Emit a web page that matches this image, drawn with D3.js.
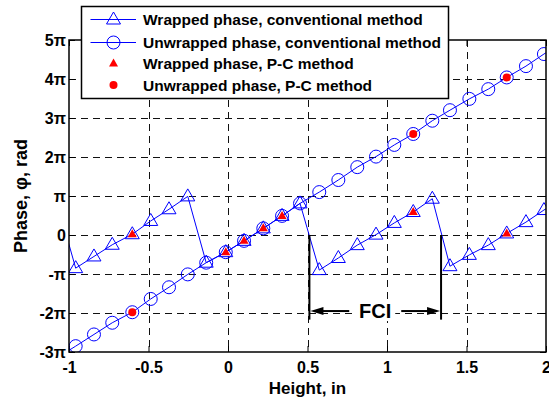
<!DOCTYPE html>
<html>
<head>
<meta charset="utf-8">
<script src="https://cdn.jsdelivr.net/npm/d3@7"></script>
<style>
html,body{margin:0;padding:0;background:#fff;}
svg{display:block;}
text{font-family:"Liberation Sans",Arial,Helvetica,sans-serif;font-weight:bold;fill:#000;}
</style>
</head>
<body>
<svg id="chart" width="549" height="400"></svg>
<script>
// ---- data (phase in units of pi) ----
const heights = [-1.076, -0.958, -0.843, -0.728, -0.602, -0.486, -0.371, -0.253, -0.137, -0.014,
  0.101, 0.222, 0.340, 0.453, 0.574, 0.694, 0.813, 0.931, 1.046, 1.165,
  1.285, 1.396, 1.518, 1.637, 1.753, 1.874, 1.987, 2.105];
const wrappedConv = [0.85, -0.85, -0.55, -0.25, 0.02, 0.36, 0.66, 0.99, -0.71, -0.44,
  -0.15, 0.17, 0.49, 0.81, -0.90, -0.59, -0.26, 0.01, 0.31, 0.59,
  0.93, -0.80, -0.51, -0.26, 0.04, 0.33, 0.64, 0.94];
const unwrappedConv = [-3.15, -2.85, -2.55, -2.25, -1.98, -1.64, -1.34, -1.01, -0.71, -0.44,
  -0.15, 0.17, 0.49, 0.81, 1.10, 1.41, 1.74, 2.01, 2.31, 2.59,
  2.93, 3.20, 3.49, 3.74, 4.04, 4.33, 4.64, 4.94];
const pcWrappedX = [-0.602, -0.014, 0.101, 0.222, 0.340, 1.165, 1.753];
const pcWrapped = [0.02, -0.44, -0.15, 0.17, 0.49, 0.59, 0.04];
const pcUnwrappedX = [-0.602, 1.165, 1.753];
const pcUnwrapped = [-1.98, 2.59, 4.04];
const xTicks = [-1, -0.5, 0, 0.5, 1, 1.5, 2];
const xTickLabels = ["-1", "-0.5", "0", "0.5", "1", "1.5", "2"];
const yTicks = [-3, -2, -1, 0, 1, 2, 3, 4, 5];
const yTickLabels = ["-3\u03c0", "-2\u03c0", "-\u03c0", "0", "\u03c0", "2\u03c0", "3\u03c0", "4\u03c0", "5\u03c0"];
const legendLabels = ["Wrapped phase, conventional method", "Unwrapped phase, conventional method",
  "Wrapped phase, P-C method", "Unwrapped phase, P-C method"];
const fciRange = [0.512, 1.34];
const fciLineY = [0, -2.17];
const fciArrowY = -1.95;
const fciLabel = "FCI";
const xLabel = "Height, in";
const yLabel = "Phase, \u03c6, rad";

// ---- layout ----
const L = 69, R = 546, T = 40, B = 352;
const svg = d3.select("#chart");
const x = d3.scaleLinear().domain([-1, 2]).range([L, R]);
const y = d3.scaleLinear().domain([-3, 5]).range([B, T]);
const blue = "#0000ff", red = "#ff0000";

svg.append("rect").attr("x", 0).attr("y", 0).attr("width", 549).attr("height", 400).attr("fill", "#fff");

// grid
const grid = svg.append("g");
grid.selectAll("line.gx").data(xTicks.slice(1, -1)).join("line")
  .attr("x1", d => Math.round(x(d)) + 0.5).attr("x2", d => Math.round(x(d)) + 0.5)
  .attr("y1", T).attr("y2", B)
  .attr("stroke", "#111").attr("stroke-width", 1).attr("stroke-dasharray", "7,5");
grid.selectAll("line.gy").data(yTicks.slice(1, -1)).join("line")
  .attr("y1", d => Math.round(y(d)) + 0.5).attr("y2", d => Math.round(y(d)) + 0.5)
  .attr("x1", L).attr("x2", R)
  .attr("stroke", "#111").attr("stroke-width", 1).attr("stroke-dasharray", "7,5");

// axes
const fmtX = d => xTickLabels[xTicks.indexOf(d)];
const fmtY = d => yTickLabels[yTicks.indexOf(d)];
const gx = svg.append("g").attr("transform", `translate(0,${B})`)
  .call(d3.axisBottom(x).tickValues(xTicks).tickFormat(fmtX).tickSize(-6).tickPadding(10));
const gy = svg.append("g").attr("transform", `translate(${L},0)`)
  .call(d3.axisLeft(y).tickValues(yTicks).tickFormat(fmtY).tickSize(-6).tickPadding(3));
const gt = svg.append("g").attr("transform", `translate(0,${T})`)
  .call(d3.axisTop(x).tickValues(xTicks).tickFormat("").tickSize(-6));
const gr = svg.append("g").attr("transform", `translate(${R},0)`)
  .call(d3.axisRight(y).tickValues(yTicks).tickFormat("").tickSize(-6));
[gx, gy, gt, gr].forEach(g => {
  g.select(".domain").remove();
  g.selectAll(".tick line").attr("stroke", "#000").attr("stroke-width", 1);
  g.selectAll("text").style("font-size", "16px").style("font-weight", "bold")
    .style("font-family", '"Liberation Sans",Arial,sans-serif').attr("fill", "#000");
});

// clip
svg.append("defs").append("clipPath").attr("id", "clip")
  .append("rect").attr("x", L).attr("y", T).attr("width", R - L).attr("height", B - T);
const plot = svg.append("g").attr("clip-path", "url(#clip)");

const triPath = "M0,-7.5L7,4.5L-7,4.5Z";
const triSmall = "M0,-5L4.5,3L-4.5,3Z";

const line = d3.line().x(d => x(d[0])).y(d => y(d[1]));
const wData = heights.map((h, i) => [h, wrappedConv[i]]);
const uData = heights.map((h, i) => [h, unwrappedConv[i]]);

// wrapped conventional
plot.append("path").datum(wData).attr("d", line).attr("fill", "none").attr("stroke", blue).attr("stroke-width", 1);
plot.selectAll("path.tri").data(wData).join("path").attr("class", "tri")
  .attr("d", triPath).attr("transform", d => `translate(${x(d[0])},${y(d[1])})`)
  .attr("fill", "none").attr("stroke", blue).attr("stroke-width", 1);
// unwrapped conventional
plot.append("path").datum(uData).attr("d", line).attr("fill", "none").attr("stroke", blue).attr("stroke-width", 1);
plot.selectAll("circle.uc").data(uData).join("circle").attr("class", "uc")
  .attr("cx", d => x(d[0])).attr("cy", d => y(d[1])).attr("r", 6.5)
  .attr("fill", "none").attr("stroke", blue).attr("stroke-width", 1);
// P-C wrapped
plot.selectAll("path.pcw").data(pcWrappedX.map((h, i) => [h, pcWrapped[i]])).join("path").attr("class", "pcw")
  .attr("d", triSmall).attr("transform", d => `translate(${x(d[0])},${y(d[1])})`)
  .attr("fill", red).attr("stroke", "none");
// P-C unwrapped
plot.selectAll("circle.pcu").data(pcUnwrappedX.map((h, i) => [h, pcUnwrapped[i]])).join("circle").attr("class", "pcu")
  .attr("cx", d => x(d[0])).attr("cy", d => y(d[1])).attr("r", 4).attr("fill", red);

// box
svg.append("rect").attr("x", L).attr("y", T).attr("width", R - L).attr("height", B - T)
  .attr("fill", "none").attr("stroke", "#000").attr("stroke-width", 1.5);

// FCI annotation
const fci = svg.append("g");
fciRange.forEach(v => {
  fci.append("line").attr("x1", x(v)).attr("x2", x(v)).attr("y1", y(fciLineY[0])).attr("y2", y(fciLineY[1]))
    .attr("stroke", "#000").attr("stroke-width", 2);
});
const ay = y(fciArrowY);
const xa = x(fciRange[0]), xb = x(fciRange[1]), xm = (xa + xb) / 2;
fci.append("line").attr("x1", xa + 10).attr("x2", xm - 26).attr("y1", ay).attr("y2", ay).attr("stroke", "#000").attr("stroke-width", 2);
fci.append("line").attr("x1", xm + 26).attr("x2", xb - 10).attr("y1", ay).attr("y2", ay).attr("stroke", "#000").attr("stroke-width", 2);
fci.append("path").attr("d", `M${xa + 1},${ay}L${xa + 14},${ay - 4}L${xa + 14},${ay + 4}Z`).attr("fill", "#000");
fci.append("path").attr("d", `M${xb - 1},${ay}L${xb - 14},${ay - 4}L${xb - 14},${ay + 4}Z`).attr("fill", "#000");
// white backing so the label sits in a clear gap
fci.append("rect").attr("x", xm - 20).attr("y", ay - 10).attr("width", 40).attr("height", 20).attr("fill", "#fff");
fci.append("text").attr("x", xm).attr("y", ay + 7).attr("text-anchor", "middle")
  .style("font-size", "20px").text(fciLabel);

// axis labels
svg.append("text").attr("x", (L + R) / 2).attr("y", 394).attr("text-anchor", "middle")
  .style("font-size", "17px").text(xLabel);
svg.append("text").attr("transform", `translate(27,${(T + B) / 2}) rotate(-90)`).attr("text-anchor", "middle")
  .style("font-size", "18px").text(yLabel);

// legend
const lg = svg.append("g");
lg.append("rect").attr("x", 81.5).attr("y", 6.5).attr("width", 367).attr("height", 92)
  .attr("fill", "#fff").attr("stroke", "#000").attr("stroke-width", 1.5);
const rowsY = [19.5, 42.5, 63.5, 85];
const mx = 113.5;
// row 1
lg.append("line").attr("x1", 90.5).attr("x2", 136).attr("y1", rowsY[0]).attr("y2", rowsY[0]).attr("stroke", blue);
lg.append("path").attr("d", triPath).attr("transform", `translate(${mx},${rowsY[0]})`).attr("fill", "none").attr("stroke", blue);
// row 2
lg.append("line").attr("x1", 90.5).attr("x2", 136).attr("y1", rowsY[1]).attr("y2", rowsY[1]).attr("stroke", blue);
lg.append("circle").attr("cx", mx).attr("cy", rowsY[1]).attr("r", 6.5).attr("fill", "none").attr("stroke", blue);
// row 3
lg.append("path").attr("d", triSmall).attr("transform", `translate(${mx},${rowsY[2]})`).attr("fill", red);
// row 4
lg.append("circle").attr("cx", mx).attr("cy", rowsY[3]).attr("r", 4).attr("fill", red);
lg.selectAll("text.lt").data(legendLabels).join("text").attr("class", "lt")
  .attr("x", 143).attr("y", (d, i) => rowsY[i] + 5.5).style("font-size", "15.5px").text(d => d);
</script>
</body>
</html>
